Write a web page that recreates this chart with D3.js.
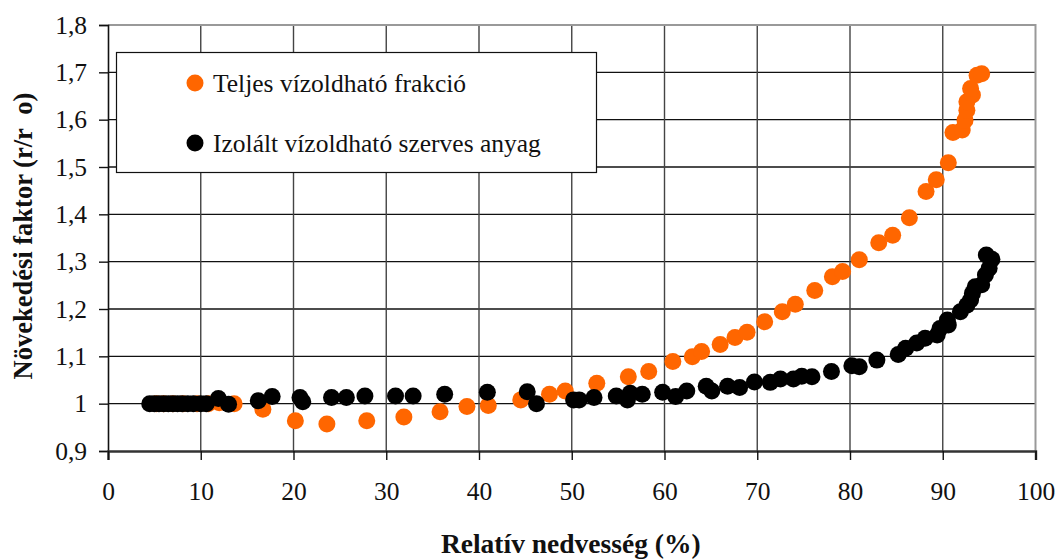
<!DOCTYPE html>
<html>
<head>
<meta charset="utf-8">
<script src="https://cdn.jsdelivr.net/npm/d3@7"></script>
<style>
  html, body { margin: 0; padding: 0; background: #fff; }
  svg { display: block; }
  svg text { font-family: "Liberation Serif", "Times New Roman", Times, "DejaVu Serif", "Noto Serif", serif; }
</style>
</head>
<body>
<svg id="chart" width="1058" height="559"></svg>
<script>
// Relative humidity (%) and growth factor (r/r0) for the whole water-soluble fraction
const totalRH = [5.2, 6.0, 7.0, 8.1, 9.6, 10.8, 12.0, 13.6,
  16.7, 20.2, 23.6, 27.9, 31.9, 35.8, 38.7, 41.0, 44.5, 47.6, 49.3, 52.7,
  56.1, 58.3, 60.9, 63.0, 64.0, 66.0, 67.6, 68.9, 70.8, 72.7, 74.1, 76.2,
  78.1, 79.2, 81.0, 83.1, 84.6, 86.4, 88.2, 89.3, 90.6, 91.1, 92.1, 92.4,
  92.6, 92.6, 93.2, 93.0, 93.7, 94.2];
const totalGF = [1.0, 1.0, 1.0, 1.0, 1.0, 1.0, 1.002, 1.0,
  0.988, 0.964, 0.957, 0.964, 0.972, 0.983, 0.994, 0.996, 1.008, 1.02, 1.027, 1.043,
  1.057, 1.068, 1.089, 1.099, 1.110, 1.125, 1.140, 1.151, 1.173, 1.194, 1.21, 1.239,
  1.268, 1.279, 1.304, 1.34, 1.356, 1.393, 1.448, 1.473, 1.509, 1.573, 1.578, 1.599,
  1.62, 1.638, 1.652, 1.666, 1.694, 1.697];

// Relative humidity (%) and growth factor for the isolated water-soluble organic matter
const isolatedRH = [4.5, 5.0, 5.5, 6.0, 6.5, 7.0, 7.5, 8.0, 8.6, 9.2, 10.0, 10.6,
  11.9, 13.0, 16.2, 17.7, 20.7, 21.0, 24.1, 25.7, 27.7, 31.0, 32.9, 36.3,
  40.9, 45.2, 46.2, 50.2, 50.8, 52.4, 54.8, 56.0, 56.3, 57.6, 59.8, 61.2,
  62.4, 64.5, 65.1, 66.8, 68.1, 69.7, 71.4, 72.5, 73.9, 74.8, 75.9, 78.0,
  80.2, 81.0, 82.9, 85.2, 86.0, 87.2, 88.1, 89.4, 89.7, 90.6, 90.5, 91.9,
  92.6, 93.0, 93.2, 93.5, 94.2, 94.6, 95.0, 94.7, 95.3];
const isolatedGF = [1.0, 1.0, 1.0, 1.0, 1.0, 1.0, 1.0, 1.0, 1.0, 1.0, 1.0, 1.0,
  1.011, 0.999, 1.006, 1.015, 1.013, 1.004, 1.013, 1.013, 1.016, 1.016, 1.016, 1.02,
  1.024, 1.025, 1.0, 1.008, 1.008, 1.013, 1.016, 1.008, 1.022, 1.02, 1.024, 1.015,
  1.027, 1.037, 1.027, 1.037, 1.034, 1.046, 1.045, 1.052, 1.052, 1.058, 1.057, 1.068,
  1.080, 1.078, 1.092, 1.104, 1.117, 1.128, 1.138, 1.145, 1.159, 1.166, 1.177, 1.194,
  1.208, 1.219, 1.233, 1.247, 1.251, 1.272, 1.286, 1.314, 1.305];

const seriesNames = ["Teljes vízoldható frakció", "Izolált vízoldható szerves anyag"];
const seriesColors = ["#ff6600", "#000000"];

const xTicks = [0, 10, 20, 30, 40, 50, 60, 70, 80, 90, 100];
const yTicks = [0.9, 1.0, 1.1, 1.2, 1.3, 1.4, 1.5, 1.6, 1.7, 1.8];
const yTickLabels = ["0,9", "1", "1,1", "1,2", "1,3", "1,4", "1,5", "1,6", "1,7", "1,8"];

const xTitle = "Relatív nedvesség (%)";
const yTitleMain = "Növekedési faktor (r/r";
const yTitleSub = "o)";

const svg = d3.select("#chart");
const plot = { left: 108, right: 1035.5, top: 25, bottom: 451 };

const x = d3.scaleLinear().domain([0, 100]).range([plot.left, plot.right]);
const y = d3.scaleLinear().domain([0.9, 1.8]).range([plot.bottom, plot.top]);

// gridlines
const grid = svg.append("g");
grid.selectAll("line.h").data(yTicks.slice(1, -1)).join("line")
  .attr("x1", plot.left).attr("x2", plot.right)
  .attr("y1", d => y(d)).attr("y2", d => y(d))
  .attr("stroke", "#111").attr("stroke-width", 1.4);
grid.selectAll("line.v").data(xTicks.slice(1, -1)).join("line")
  .attr("x1", d => x(d)).attr("x2", d => x(d))
  .attr("y1", plot.top).attr("y2", plot.bottom)
  .attr("stroke", "#444").attr("stroke-width", 1.4);

// plot frame (top and right)
svg.append("path")
  .attr("d", `M${plot.left},${plot.top}H${plot.right}V${plot.bottom}`)
  .attr("fill", "none").attr("stroke", "#999").attr("stroke-width", 2);

// y axis
const yAxis = svg.append("g")
  .attr("transform", `translate(${plot.left},0)`)
  .call(d3.axisLeft(y).tickValues(yTicks).tickSize(9).tickPadding(12)
    .tickFormat((d, i) => yTickLabels[i]));
yAxis.attr("font-family", null);
yAxis.select(".domain").attr("stroke", "#111").attr("stroke-width", 1.6);
yAxis.selectAll(".tick line").attr("stroke", "#111").attr("stroke-width", 1.4);
yAxis.selectAll(".tick text").attr("font-size", 25.5).attr("fill", "#111");

// x axis
const xAxis = svg.append("g")
  .attr("transform", `translate(0,${plot.bottom})`)
  .call(d3.axisBottom(x).tickValues(xTicks).tickSize(9).tickPadding(22)
    .tickFormat(d3.format("d")));
xAxis.attr("font-family", null);
xAxis.select(".domain").attr("stroke", "#333").attr("stroke-width", 2.4);
xAxis.selectAll(".tick line").attr("stroke", "#111").attr("stroke-width", 1.4);
xAxis.selectAll(".tick text").attr("font-size", 25.5).attr("fill", "#111");

// legend
const legend = svg.append("g");
legend.append("rect")
  .attr("x", 116.5).attr("y", 52.5).attr("width", 480).attr("height", 120)
  .attr("fill", "#fff").attr("stroke", "#111").attr("stroke-width", 1.2);
const legendRows = [83, 143];
seriesNames.forEach((name, i) => {
  legend.append("circle").attr("cx", 195).attr("cy", legendRows[i]).attr("r", 8.5)
    .attr("fill", seriesColors[i]);
  legend.append("text").attr("x", 213).attr("y", legendRows[i] + 9)
    .attr("font-size", 25.5).attr("fill", "#111").text(name);
});

// points: whole fraction first, isolated organic matter on top
const series = [
  d3.zip(totalRH, totalGF),
  d3.zip(isolatedRH, isolatedGF)
];
series.forEach((pts, i) => {
  svg.append("g").selectAll("circle").data(pts).join("circle")
    .attr("cx", d => x(d[0])).attr("cy", d => y(d[1])).attr("r", 8.5)
    .attr("fill", seriesColors[i]);
});

// axis titles
svg.append("text")
  .attr("x", (plot.left + plot.right) / 2 - 1).attr("y", 553)
  .attr("text-anchor", "middle").attr("font-weight", "bold").attr("font-size", 27.5)
  .attr("fill", "#111").text(xTitle);

const yt = svg.append("text")
  .attr("transform", "translate(32,236) rotate(-90)")
  .attr("text-anchor", "middle").attr("font-weight", "bold").attr("font-size", 26.5)
  .attr("fill", "#111");
yt.append("tspan").text(yTitleMain);
yt.append("tspan").attr("dx", 14).text(yTitleSub);
</script>
</body>
</html>
